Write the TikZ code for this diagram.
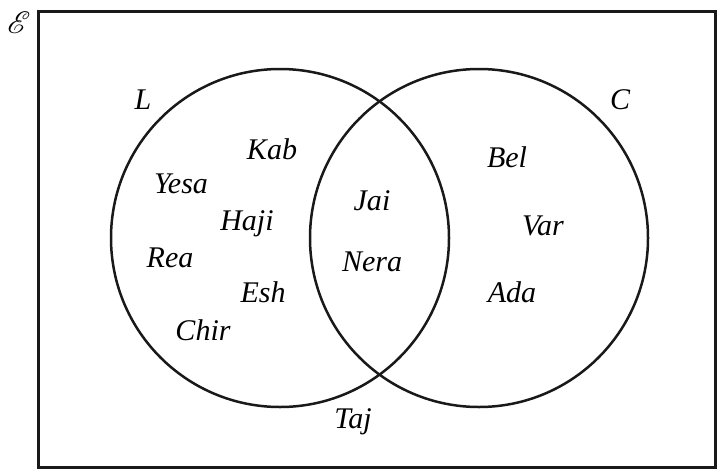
\documentclass[tikz,border=0pt]{standalone}
\usepackage{fontspec}
\usepackage{mathrsfs}
\setmainfont{Liberation Serif}
\begin{document}
\begin{tikzpicture}[x=1pt,y=-1pt,
  lbl/.style={font=\fontsize{30}{36}\selectfont\itshape, anchor=base, inner sep=0pt},
  setline/.style={line width=2.5pt, draw=black!90},
  frame/.style={line width=3pt, draw=black!90}]
\useasboundingbox (0,0) rectangle (717,469);
\draw[frame] (38.5,11) rectangle (715.5,467);
\node[inner sep=0pt, scale=3.1] (E) at (19,22.5) {$\mathscr{E}$};
\draw[setline] (280,238) circle[radius=169];
\draw[setline] (479,238) circle[radius=169];
\node[lbl] (L) at (143,109) {L};
\node[lbl] (C) at (620,109) {C};
\node[lbl] (kab) at (272,159) {Kab};
\node[lbl] (yesa) at (181,193) {Yesa};
\node[lbl] (haji) at (247,230) {Haji};
\node[lbl] (rea) at (170,267) {Rea};
\node[lbl] (esh) at (263,302) {Esh};
\node[lbl] (chir) at (203,340) {Chir};
\node[lbl] (jai) at (372,210) {Jai};
\node[lbl] (nera) at (372,271) {Nera};
\node[lbl] (bel) at (507,167) {Bel};
\node[lbl] (var) at (543,235) {Var};
\node[lbl] (ada) at (512,302) {Ada};
\node[lbl] (taj) at (353,428) {Taj};
\end{tikzpicture}
\end{document}
